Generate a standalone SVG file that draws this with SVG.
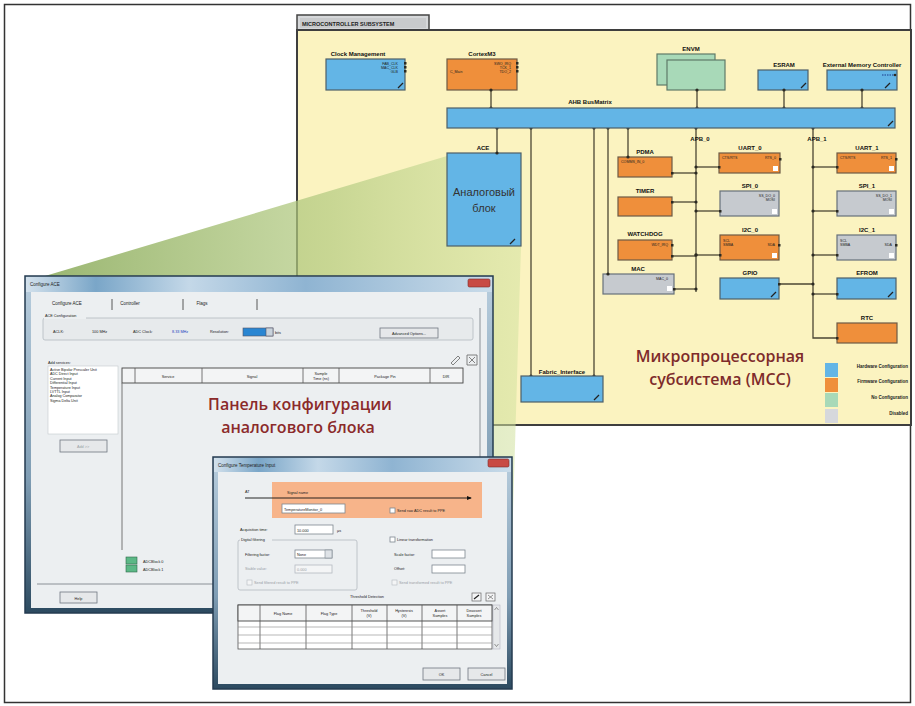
<svg xmlns="http://www.w3.org/2000/svg" width="915" height="706" viewBox="0 0 915 706">
<defs>
<style>
.ui{font-family:"Liberation Sans",Arial,sans-serif;fill:#222}
.s{font-size:4.5px}
.xs{font-size:3.8px}
.gr{fill:#9aa0a6}
.nl{font-family:"Liberation Sans",Arial,sans-serif;font-weight:bold;font-size:6px;fill:#111;text-anchor:middle}
.pt{font-family:"Liberation Sans",Arial,sans-serif;font-size:3.6px;fill:#222}
.blue{fill:#63b5e6;stroke:#4e5f68;stroke-width:1.2}
.orange{fill:#ef8f3b;stroke:#6d5a45;stroke-width:1.2}
.gray{fill:#c6cacf;stroke:#66707a;stroke-width:1.2}
.green{fill:#a8d9b8;stroke:#5f7a68;stroke-width:1.2}
.wire{stroke:#4b4633;stroke-width:1.3;fill:none}
.dot{fill:#2b2a22}
.big{font-family:"Open Sans","Noto Sans","Liberation Sans",sans-serif;font-weight:600;font-size:16px;fill:#7e2b2b;text-anchor:middle}
.btn{fill:#e6e8ea;stroke:#6f7780;stroke-width:0.8}
.fld{fill:#fff;stroke:#7d8790;stroke-width:0.8}
.hd{fill:#f3f4f5;stroke:#444;stroke-width:0.9}
.cell{stroke:#555;stroke-width:0.8;fill:none}
.mid{text-anchor:middle}
.edit{stroke:#222;stroke-width:1.2}
</style>
<linearGradient id="wedge" gradientUnits="userSpaceOnUse" x1="45" y1="0" x2="520" y2="0">
<stop offset="0" stop-color="#8fae62" stop-opacity="0.9"/>
<stop offset="0.6" stop-color="#b2ca80" stop-opacity="0.7"/>
<stop offset="1" stop-color="#d2e2a0" stop-opacity="0.55"/>
</linearGradient>
<linearGradient id="frame" x1="0" y1="0" x2="0" y2="1">
<stop offset="0" stop-color="#b9cede"/>
<stop offset="0.6" stop-color="#7f9db4"/>
<stop offset="1" stop-color="#2c4a60"/>
</linearGradient>
<linearGradient id="title" x1="0" y1="0" x2="1" y2="0">
<stop offset="0" stop-color="#d3e1ec"/>
<stop offset="0.15" stop-color="#7aa6c8"/>
<stop offset="0.35" stop-color="#c4d8e8"/>
<stop offset="0.6" stop-color="#8fb4d2"/>
<stop offset="1" stop-color="#c9dbe9"/>
</linearGradient>
<marker id="arr" viewBox="0 0 6 6" refX="5" refY="3" markerWidth="6" markerHeight="6" orient="auto">
<path d="M0,0.5 L6,3 L0,5.5 z" fill="#111"/>
</marker>
</defs>

<rect width="915" height="706" fill="#fff"/>
<rect x="4.5" y="4.5" width="906" height="698" fill="none" stroke="#333" stroke-width="1.5"/>

<!-- subsystem canvas -->
<g id="mss-panel">
<path d="M297,30 V15 H429 V30" fill="#d6d8da" stroke="#444" stroke-width="1.5"/>
<rect x="300" y="18" width="126" height="10" fill="#c8cacc"/>
<text x="302" y="25.5" class="ui" style="font-size:5.5px;font-weight:bold">MICROCONTROLLER SUBSYSTEM</text>
<rect x="297" y="30" width="614" height="395" fill="#fbf3c0" stroke="#3e3e3e" stroke-width="2"/>
</g>

<!-- zoom wedge from the ACE block to its dialog -->
<polygon points="45,276 447,156 521,246 510,612 45,612" fill="url(#wedge)"/>

<!-- connectors -->
<g id="connectors" class="wire">
<path d="M491,90 V108"/>
<path d="M697,90 V108"/>
<path d="M784,90 V108"/>
<path d="M862,90 V108"/>
<path d="M497,128 V153"/>
<path d="M531,128 V376"/>
<path d="M594,128 V376"/>
<path d="M608,128 V274"/>
<path d="M628,128 V157"/>
<path d="M696,128 V292"/>
<path d="M813,128 V338 H837"/>
<path d="M672,173 H696"/>
<path d="M672,202 H696"/>
<path d="M672,256 H696"/>
<path d="M674,289 H696"/>
<path d="M696,167 H719"/>
<path d="M696,211 H720"/>
<path d="M696,255 H720"/>
<path d="M779,284 H813"/>
<path d="M813,167 H837"/>
<path d="M813,211 H837"/>
<path d="M813,255 H837"/>
<path d="M813,294 H837"/>
</g>
<g id="junctions" class="dot">
<circle cx="491" cy="108" r="1.6"/><circle cx="697" cy="108" r="1.6"/><circle cx="784" cy="108" r="1.6"/><circle cx="862" cy="108" r="1.6"/>
<circle cx="497" cy="128" r="1.6"/><circle cx="531" cy="128" r="1.6"/><circle cx="594" cy="128" r="1.6"/><circle cx="608" cy="128" r="1.6"/><circle cx="628" cy="128" r="1.6"/><circle cx="696" cy="128" r="1.6"/><circle cx="813" cy="128" r="1.6"/>
<circle cx="696" cy="173" r="1.6"/><circle cx="696" cy="202" r="1.6"/><circle cx="696" cy="211" r="1.6"/><circle cx="696" cy="255" r="1.8"/><circle cx="696" cy="289" r="1.6"/><circle cx="696" cy="167" r="1.6"/>
<circle cx="813" cy="167" r="1.6"/><circle cx="813" cy="211" r="1.6"/><circle cx="813" cy="255" r="1.6"/><circle cx="813" cy="284" r="1.6"/><circle cx="813" cy="294" r="1.6"/>
<circle cx="531" cy="376" r="1.6"/><circle cx="594" cy="376" r="1.6"/>
</g>

<!-- blocks -->
<g id="clock-management">
<rect x="326" y="59" width="79" height="31" class="blue"/>
<text x="358" y="56" class="nl">Clock Management</text>
<text x="398" y="65" class="pt" text-anchor="end">FAB_CLK</text>
<text x="398" y="69" class="pt" text-anchor="end">MAC_CLK</text>
<text x="398" y="73" class="pt" text-anchor="end">GLB</text>
<rect x="404" y="62" width="2.5" height="2.5" class="dot"/><rect x="404" y="66" width="2.5" height="2.5" class="dot"/><rect x="404" y="70" width="2.5" height="2.5" class="dot"/>
<path d="M398,88 L403,83" class="edit"/>
</g>
<g id="cortex-m3">
<rect x="447" y="59" width="70" height="31" class="orange"/>
<text x="482" y="56" class="nl">CortexM3</text>
<text x="450" y="73" class="pt">C_Main</text>
<text x="511" y="65" class="pt" text-anchor="end">SWO_IRQ</text>
<text x="511" y="69" class="pt" text-anchor="end">TCK_1</text>
<text x="511" y="73" class="pt" text-anchor="end">TDO_2</text>
<rect x="516" y="62" width="2.5" height="2.5" class="dot"/><rect x="516" y="66" width="2.5" height="2.5" class="dot"/><rect x="516" y="70" width="2.5" height="2.5" class="dot"/>
<circle cx="491" cy="90" r="1.6" class="dot"/>
</g>
<g id="envm">
<rect x="657" y="54" width="58" height="31" class="green"/>
<rect x="667" y="60" width="58" height="30" class="green"/>
<text x="691" y="51" class="nl">ENVM</text>
<circle cx="697" cy="90" r="1.6" class="dot"/>
</g>
<g id="esram">
<rect x="758" y="70" width="50" height="20" class="blue"/>
<text x="784" y="67" class="nl">ESRAM</text>
<path d="M801,88 L806,83" class="edit"/>
<circle cx="784" cy="90" r="1.6" class="dot"/>
</g>
<g id="ext-mem-ctrl">
<rect x="827" y="70" width="70" height="20" class="blue"/>
<text x="862" y="67" class="nl">External Memory Controller</text>
<path d="M882,75 H894" stroke="#1a3b8a" stroke-width="1.2" stroke-dasharray="1.5,1"/>
<circle cx="895" cy="75" r="1.3" class="dot"/>
<path d="M885,88 L890,83" class="edit"/>
<circle cx="862" cy="90" r="1.6" class="dot"/>
</g>
<g id="ahb-bus-matrix">
<rect x="447" y="108" width="448" height="20" class="blue"/>
<text x="590" y="104" class="nl">AHB BusMatrix</text>
<path d="M888,126 L893,121" class="edit"/>
</g>
<g id="ace">
<rect x="447" y="153" width="74" height="93" class="blue"/>
<text x="483" y="150" class="nl">ACE</text>
<text x="484" y="196" font-family="Liberation Sans, Arial, sans-serif" font-size="11" fill="#333" text-anchor="middle">Аналоговый</text>
<text x="484" y="212" font-family="Liberation Sans, Arial, sans-serif" font-size="11" fill="#333" text-anchor="middle">блок</text>
<path d="M510,244 L515,239" class="edit"/>
<circle cx="497" cy="153" r="1.6" class="dot"/>
</g>
<g id="pdma">
<rect x="618" y="157" width="54" height="20" class="orange"/>
<text x="645" y="154" class="nl">PDMA</text>
<text x="621" y="163" class="pt">COMMS_IN_0</text>
<circle cx="628" cy="157" r="1.6" class="dot"/><rect x="671" y="172" width="2.5" height="2.5" class="dot"/>
</g>
<g id="timer">
<rect x="618" y="197" width="54" height="19" class="orange"/>
<text x="645" y="193" class="nl">TIMER</text>
<rect x="671" y="201" width="2.5" height="2.5" class="dot"/>
</g>
<g id="watchdog">
<rect x="618" y="240" width="54" height="20" class="orange"/>
<text x="645" y="236" class="nl">WATCHDOG</text>
<text x="668" y="246" class="pt" text-anchor="end">WDT_IRQ</text>
<rect x="671" y="244" width="2.5" height="2.5" class="dot"/><rect x="671" y="255" width="2.5" height="2.5" class="dot"/>
</g>
<g id="mac">
<rect x="603" y="274" width="71" height="20" class="gray"/>
<text x="638" y="271" class="nl">MAC</text>
<text x="668" y="280" class="pt" text-anchor="end">MAC_0</text>
<rect x="667" y="286" width="5" height="5" fill="#fff"/>
<circle cx="608" cy="274" r="1.6" class="dot"/><rect x="673" y="288" width="2.5" height="2.5" class="dot"/>
</g>
<g id="uart0">
<rect x="719" y="153" width="61" height="20" class="orange"/>
<text x="750" y="150" class="nl">UART_0</text>
<text x="722" y="159" class="pt">CTS/RTS</text>
<text x="776" y="159" class="pt" text-anchor="end">RTS_0</text>
<rect x="773" y="166" width="5" height="5" fill="#fff"/>
<rect x="718" y="166" width="2.5" height="2.5" class="dot"/><rect x="779" y="158" width="2.5" height="2.5" class="dot"/>
</g>
<g id="spi0">
<rect x="720" y="191" width="59" height="25" class="gray"/>
<text x="750" y="188" class="nl">SPI_0</text>
<text x="775" y="197" class="pt" text-anchor="end">SS_DO_0</text>
<text x="775" y="201" class="pt" text-anchor="end">MOSI</text>
<rect x="772" y="209" width="5" height="5" fill="#fff"/>
<rect x="719" y="210" width="2.5" height="2.5" class="dot"/>
</g>
<g id="i2c0">
<rect x="720" y="235" width="59" height="25" class="orange"/>
<text x="750" y="232" class="nl">I2C_0</text>
<text x="723" y="242" class="pt">SCL</text>
<text x="723" y="246" class="pt">SMBA</text>
<text x="775" y="246" class="pt" text-anchor="end">SDA</text>
<rect x="772" y="253" width="5" height="5" fill="#fff"/>
<rect x="719" y="254" width="2.5" height="2.5" class="dot"/><rect x="778" y="244" width="2.5" height="2.5" class="dot"/>
</g>
<g id="gpio">
<rect x="720" y="278" width="59" height="21" class="blue"/>
<text x="750" y="275" class="nl">GPIO</text>
<path d="M771,297 L776,292" class="edit"/>
<rect x="778" y="283" width="2.5" height="2.5" class="dot"/>
</g>
<g id="uart1">
<rect x="837" y="153" width="59" height="20" class="orange"/>
<text x="867" y="150" class="nl">UART_1</text>
<text x="840" y="159" class="pt">CTS/RTS</text>
<text x="892" y="159" class="pt" text-anchor="end">RTS_1</text>
<rect x="889" y="166" width="5" height="5" fill="#fff"/>
<rect x="836" y="166" width="2.5" height="2.5" class="dot"/><rect x="895" y="158" width="2.5" height="2.5" class="dot"/>
</g>
<g id="spi1">
<rect x="837" y="191" width="59" height="25" class="gray"/>
<text x="867" y="188" class="nl">SPI_1</text>
<text x="892" y="197" class="pt" text-anchor="end">SS_DO_1</text>
<text x="892" y="201" class="pt" text-anchor="end">MOSI</text>
<rect x="889" y="209" width="5" height="5" fill="#fff"/>
<rect x="836" y="210" width="2.5" height="2.5" class="dot"/>
</g>
<g id="i2c1">
<rect x="837" y="235" width="59" height="25" class="gray"/>
<text x="867" y="232" class="nl">I2C_1</text>
<text x="840" y="242" class="pt">SCL</text>
<text x="840" y="246" class="pt">SMBA</text>
<text x="892" y="246" class="pt" text-anchor="end">SDA</text>
<rect x="889" y="253" width="5" height="5" fill="#fff"/>
<rect x="836" y="254" width="2.5" height="2.5" class="dot"/><rect x="895" y="244" width="2.5" height="2.5" class="dot"/>
</g>
<g id="efrom">
<rect x="837" y="278" width="59" height="21" class="blue"/>
<text x="867" y="275" class="nl">EFROM</text>
<path d="M888,297 L893,292" class="edit"/>
<rect x="836" y="293" width="2.5" height="2.5" class="dot"/>
</g>
<g id="rtc">
<rect x="837" y="323" width="60" height="20" class="orange"/>
<text x="867" y="320" class="nl">RTC</text>
<rect x="836" y="337" width="2.5" height="2.5" class="dot"/>
</g>
<g id="fabric-interface">
<rect x="521" y="376" width="82" height="26" class="blue"/>
<text x="562" y="374" class="nl">Fabric_Interface</text>
<path d="M594,400 L599,395" class="edit"/>
</g>
<g id="bus-labels">
<text x="700" y="141" class="nl" text-anchor="start">APB_0</text>
<text x="817" y="141" class="nl" text-anchor="start">APB_1</text>
</g>

<g id="mss-caption">
<text x="720" y="362" class="big">Микропроцессорная</text>
<text x="720" y="385" class="big">субсистема (МСС)</text>
</g>

<g id="legend">
<rect x="825" y="363" width="13" height="14" fill="#63b5e6"/>
<rect x="825" y="378" width="13" height="14" fill="#ef8f3b"/>
<rect x="825" y="393" width="13" height="14" fill="#a8d9b8"/>
<rect x="825" y="409" width="13" height="14" fill="#d6d8dc"/>
<text x="908" y="368" class="ui" style="font-size:4.5px;font-weight:bold" text-anchor="end">Hardware Configuration</text>
<text x="908" y="383" class="ui" style="font-size:4.5px;font-weight:bold" text-anchor="end">Firmware Configuration</text>
<text x="908" y="399" class="ui" style="font-size:4.5px;font-weight:bold" text-anchor="end">No Configuration</text>
<text x="908" y="415" class="ui" style="font-size:4.5px;font-weight:bold" text-anchor="end">Disabled</text>
</g>

<!-- ACE configuration dialog -->
<g id="configure-ace-window">
<rect x="25" y="276" width="468" height="337" fill="url(#frame)" stroke="#253b50" stroke-width="1.5"/>
<rect x="26" y="277" width="466" height="15" fill="url(#title)"/>
<text x="30" y="286" class="ui s">Configure ACE</text>
<rect x="468" y="279" width="22" height="8" rx="1.5" fill="#c84a44" stroke="#7a2a28" stroke-width="0.6"/>
<rect x="31" y="292" width="456" height="316" fill="#eceff1"/>
<text x="67" y="305" class="ui s mid">Configure ACE</text>
<text x="130" y="305" class="ui s mid">Controller</text>
<text x="202" y="305" class="ui s mid">Flags</text>
<path d="M112,299 V310 M183,299 V310 M257,299 V310" stroke="#333" stroke-width="0.8"/>
<rect x="43" y="318" width="430" height="22" rx="2" fill="#e7eaec" stroke="#b4bac0" stroke-width="0.8"/>
<rect x="44" y="313" width="42" height="6" fill="#eceff1"/>
<text x="45" y="317" class="ui xs">ACE Configuration</text>
<text x="53" y="333" class="ui xs">ACLK:</text>
<text x="92" y="333" class="ui xs">100 MHz</text>
<text x="133" y="333" class="ui xs">ADC Clock:</text>
<text x="172" y="333" class="ui xs" style="fill:#2040c0">8.33 MHz</text>
<text x="210" y="333" class="ui xs">Resolution:</text>
<rect x="243" y="328" width="30" height="8" fill="#2a86d2" stroke="#556" stroke-width="0.6"/>
<rect x="266" y="328" width="7" height="8" fill="#c9d3dc" stroke="#556" stroke-width="0.6"/>
<text x="275" y="334" class="ui xs">bits</text>
<rect x="380" y="328" width="58" height="10" class="btn"/>
<text x="409" y="334.5" class="ui xs mid">Advanced Options...</text>

<text x="48" y="364" class="ui xs">Add services:</text>
<rect x="48" y="366" width="70" height="68" fill="#fff" stroke="#c4c8cc" stroke-width="0.6"/>
<g class="ui" style="font-size:3.7px">
<text x="50" y="371">Active Bipolar Prescaler Unit</text>
<text x="50" y="375.4">ADC Direct Input</text>
<text x="50" y="379.8">Current Input</text>
<text x="50" y="384.2">Differential Input</text>
<text x="50" y="388.6">Temperature Input</text>
<text x="50" y="393">LVTTL Input</text>
<text x="50" y="397.4">Analog Comparator</text>
<text x="50" y="401.8">Sigma Delta Unit</text>
</g>
<rect x="60" y="440" width="47" height="12" class="btn"/>
<text x="83" y="447.5" class="ui xs mid gr">Add &gt;&gt;</text>

<rect x="122" y="368" width="341" height="15" class="hd"/>
<path d="M135,368 V383 M202,368 V383 M303,368 V383 M339,368 V383 M430,368 V383" class="cell"/>
<text x="168" y="377.5" class="ui xs mid">Service</text>
<text x="252" y="377.5" class="ui xs mid">Signal</text>
<text x="321" y="374.5" class="ui xs mid">Sample</text>
<text x="321" y="379.5" class="ui xs mid">Time (ns)</text>
<text x="385" y="377.5" class="ui xs mid">Package Pin</text>
<text x="446" y="377.5" class="ui xs mid">DIR</text>
<path d="M122,383 V550" stroke="#777" stroke-width="1"/>
<path d="M480,308 V570" stroke="#8a9096" stroke-width="1"/>
<path d="M451,363 L458,356 L460,358 L453,365 Z" fill="none" stroke="#666" stroke-width="0.8"/>
<path d="M467,355 H477 V365 H467 Z M469,357 L475,363 M475,357 L469,363" fill="none" stroke="#666" stroke-width="0.8"/>

<text x="300" y="410" class="big" style="fill:#8b2a2a">Панель конфигурации</text>
<text x="298" y="433" class="big" style="fill:#8b2a2a">аналогового блока</text>

<rect x="126" y="557" width="11" height="7" fill="#5cb886" stroke="#2f6a4a" stroke-width="0.6"/>
<rect x="126" y="565" width="11" height="7" fill="#5cb886" stroke="#2f6a4a" stroke-width="0.6"/>
<text x="143" y="562.5" class="ui xs">ADCBlock 0</text>
<text x="143" y="570.5" class="ui xs">ADCBlock 1</text>
<path d="M37,584 H213" stroke="#8a9096" stroke-width="1"/>
<rect x="60" y="592" width="37" height="11" class="btn"/>
<text x="78.5" y="599.5" class="ui xs mid">Help</text>
</g>

<!-- temperature input dialog -->
<g id="temperature-input-window">
<rect x="213" y="457" width="299" height="232" fill="url(#frame)" stroke="#253b50" stroke-width="1.5"/>
<rect x="214" y="458" width="297" height="14" fill="url(#title)"/>
<text x="218" y="467" class="ui s">Configure Temperature Input</text>
<rect x="488" y="459" width="21" height="8" rx="1.5" fill="#c84a44" stroke="#7a2a28" stroke-width="0.6"/>
<rect x="218" y="472" width="289" height="212" fill="#eceff1"/>

<text x="245" y="493" class="ui xs">AT</text>
<rect x="272" y="482" width="210" height="36" fill="#f7b48a"/>
<text x="287" y="494" class="ui xs">Signal name</text>
<path d="M245,498 H471" stroke="#111" stroke-width="0.9" marker-end="url(#arr)"/>
<rect x="282" y="504" width="63" height="9" class="fld"/>
<text x="284" y="510.5" class="ui xs">TemperatureMonitor_0</text>
<rect x="390" y="508" width="5" height="5" class="fld"/>
<text x="397" y="512" class="ui xs">Send raw ADC result to PPE</text>

<text x="240" y="531" class="ui xs">Acquisition time:</text>
<rect x="295" y="525" width="38" height="9" class="fld"/>
<text x="297" y="531.5" class="ui xs">10.000</text>
<text x="337" y="532" class="ui xs">µs</text>

<rect x="238" y="540" width="119" height="50" rx="2" fill="none" stroke="#b4bac0" stroke-width="0.8"/>
<rect x="240" y="537" width="32" height="5" fill="#eceff1"/>
<text x="241" y="541" class="ui xs">Digital filtering</text>
<text x="245" y="556" class="ui xs">Filtering factor:</text>
<rect x="295" y="550" width="37" height="8" class="fld"/>
<rect x="325" y="550" width="7" height="8" fill="#dfe3e7" stroke="#7d8790" stroke-width="0.6"/>
<text x="297" y="556" class="ui xs">None</text>
<text x="245" y="570" class="ui xs gr">Stable value:</text>
<rect x="295" y="565" width="37" height="8" fill="#f4f5f6" stroke="#b4bac0" stroke-width="0.8"/>
<text x="297" y="571" class="ui xs gr">0.000</text>
<rect x="247" y="580" width="5" height="5" fill="#f4f5f6" stroke="#b4bac0" stroke-width="0.6"/>
<text x="254" y="584" class="ui xs gr">Send filtered result to PPE</text>

<rect x="390" y="537" width="5" height="5" class="fld"/>
<text x="397" y="541" class="ui xs">Linear transformation</text>
<text x="394" y="556" class="ui xs">Scale factor:</text>
<rect x="432" y="550" width="33" height="8" class="fld"/>
<text x="394" y="570" class="ui xs">Offset:</text>
<rect x="432" y="565" width="33" height="8" class="fld"/>
<rect x="392" y="580" width="5" height="5" fill="#f4f5f6" stroke="#b4bac0" stroke-width="0.6"/>
<text x="399" y="584" class="ui xs gr">Send transformed result to PPE</text>

<text x="367" y="598" class="ui xs mid">Threshold Detection</text>
<rect x="472" y="593" width="9" height="8" fill="#f4f5f6" stroke="#666" stroke-width="0.7"/>
<path d="M474,599 L479,595" stroke="#222" stroke-width="1.2"/>
<rect x="486" y="593" width="9" height="8" fill="#f4f5f6" stroke="#666" stroke-width="0.7"/>
<path d="M488,595 L493,599 M493,595 L488,599" stroke="#666" stroke-width="0.7"/>

<rect x="238" y="605" width="254" height="44" fill="#fff" stroke="#555" stroke-width="0.8"/>
<rect x="238" y="605" width="254" height="16" class="hd"/>
<path d="M260,605 V649 M306,605 V649 M352,605 V649 M387,605 V649 M422,605 V649 M457,605 V649" class="cell"/>
<path d="M238,627 H492 M238,635 H492 M238,643 H492" stroke="#888" stroke-width="0.6"/>
<text x="283" y="614.5" class="ui xs mid">Flag Name</text>
<text x="329" y="614.5" class="ui xs mid">Flag Type</text>
<text x="369" y="611.5" class="ui xs mid">Threshold</text>
<text x="369" y="617" class="ui xs mid">(V)</text>
<text x="404" y="611.5" class="ui xs mid">Hysteresis</text>
<text x="404" y="617" class="ui xs mid">(V)</text>
<text x="440" y="611.5" class="ui xs mid">Assert</text>
<text x="440" y="617" class="ui xs mid">Samples</text>
<text x="474" y="611.5" class="ui xs mid">Deassert</text>
<text x="474" y="617" class="ui xs mid">Samples</text>
<rect x="493" y="605" width="7" height="44" fill="#e6e8ea" stroke="#aab" stroke-width="0.5"/>
<path d="M494.5,610 L496.5,607.5 L498.5,610 M494.5,644 L496.5,646.5 L498.5,644" fill="none" stroke="#555" stroke-width="0.6"/>

<rect x="423" y="668" width="37" height="12" class="btn"/>
<text x="441.5" y="676" class="ui xs mid">OK</text>
<rect x="468" y="668" width="37" height="12" class="btn"/>
<text x="486.5" y="676" class="ui xs mid">Cancel</text>
</g>
</svg>
